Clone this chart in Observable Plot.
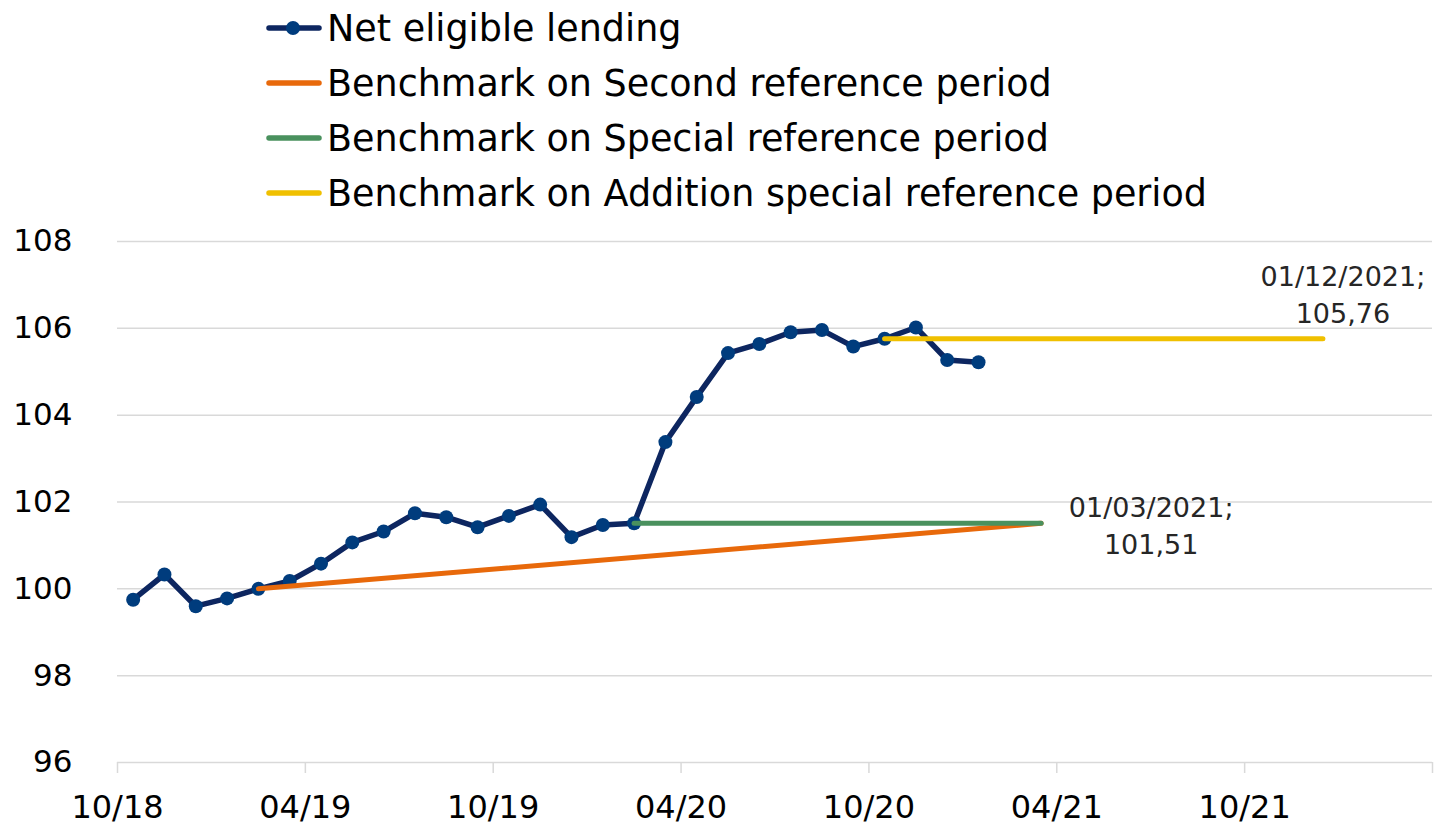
<!DOCTYPE html>
<html>
<head>
<meta charset="utf-8">
<script src="https://cdn.jsdelivr.net/npm/d3@7"></script>
<script src="https://cdn.jsdelivr.net/npm/@observablehq/plot@0.6"></script>
<style>
  html, body { margin: 0; padding: 0; background: #fff; }
  #wrap { width: 1435px; height: 829px; position: relative; overflow: hidden; font-family: "DejaVu Sans", sans-serif; }
  #legend { height: 220px; position: relative; }
  .row { position: absolute; left: 266px; height: 40px; display: flex; align-items: center; }
  .row span { font-size: 36.5px; color: #000; margin-left: 5px; white-space: nowrap; }
</style>
</head>
<body>
<div id="wrap">
  <div id="legend"></div>
  <div id="chart"></div>
</div>
<script>
// ---- data ----
const months = ["2018-10","2018-11","2018-12","2019-01","2019-02","2019-03","2019-04","2019-05","2019-06","2019-07","2019-08","2019-09","2019-10","2019-11","2019-12","2020-01","2020-02","2020-03","2020-04","2020-05","2020-06","2020-07","2020-08","2020-09","2020-10","2020-11","2020-12","2021-01"];
const netLending = [99.75,100.33,99.60,99.78,100.0,100.18,100.58,101.07,101.32,101.74,101.65,101.42,101.68,101.94,101.19,101.47,101.51,103.38,104.42,105.43,105.64,105.91,105.96,105.58,105.76,106.02,105.27,105.22];

const secondMonths = ["2019-02","2021-03"];
const secondValues = [100.0, 101.51];
const specialMonths = ["2020-02","2021-03"];
const specialValues = [101.51, 101.51];
const additionMonths = ["2020-10","2021-12"];
const additionValues = [105.76, 105.76];

const seriesNames = ["Net eligible lending","Benchmark on Second reference period","Benchmark on Special reference period","Benchmark on Addition special reference period"];
const seriesColors = ["#0d2660","#E8690B","#4A915E","#F0C000"];
const markerColor = "#003c7d";

const xTickMonths = ["2018-10","2019-04","2019-10","2020-04","2020-10","2021-04","2021-10","2022-04"];
const xTickLabels = ["10/18","04/19","10/19","04/20","10/20","04/21","10/21",""];
const yTicks = [96,98,100,102,104,106,108];

const annotations = [
  {month: "2021-03", value: 101.51, label: "01/03/2021;\n101,51", pos: "right"},
  {month: "2021-12", value: 105.76, label: "01/12/2021;\n105,76", pos: "above"}
];

// month string -> slot index (Excel date axis: points sit in the middle of the month slot)
const origin = 2018 * 12 + 9;
const slot = s => { const [y, m] = s.split("-").map(Number); return y * 12 + (m - 1) - origin; };
const mid = s => slot(s) + 0.5;

const net = months.map((m, i) => ({x: mid(m), y: netLending[i]}));
const second = secondMonths.map((m, i) => ({x: mid(m), y: secondValues[i]}));
const special = specialMonths.map((m, i) => ({x: mid(m), y: specialValues[i]}));
const addition = additionMonths.map((m, i) => ({x: mid(m), y: additionValues[i]}));
const ann = annotations.map(a => ({x: mid(a.month), y: a.value, label: a.label, pos: a.pos}));
const xTicks = xTickMonths.map(slot);
const tickLabel = d => xTickLabels[xTicks.indexOf(d)] ?? "";

// ---- legend ----
const legend = document.getElementById("legend");
seriesNames.forEach((name, i) => {
  const row = document.createElement("div");
  row.className = "row";
  row.style.top = (8 + i * 55) + "px";
  const marker = i === 0 ? `<circle cx="27" cy="7" r="7" fill="${markerColor}"/>` : "";
  row.innerHTML = `<svg width="56" height="14"><line x1="3" y1="7" x2="53" y2="7" stroke="${seriesColors[i]}" stroke-width="5.5" stroke-linecap="round"/>${marker}</svg><span>${name}</span>`;
  legend.appendChild(row);
});

// ---- chart ----
const chart = Plot.plot({
  width: 1435,
  height: 609,
  marginLeft: 117,
  marginRight: 3,
  marginTop: 21,
  marginBottom: 67,
  style: {fontFamily: "DejaVu Sans, sans-serif", color: "#000", background: "#fff", overflow: "visible"},
  x: {type: "linear", domain: [0, 42]},
  y: {domain: [96, 108]},
  marks: [
    Plot.gridY(yTicks, {stroke: "#d9d9d9", strokeOpacity: 1, strokeWidth: 1.5}),
    Plot.axisY(yTicks, {tickSize: 0, tickPadding: 45, fontSize: 31, tickFormat: d => String(d), fill: "#000", label: null}),
    Plot.axisX(xTicks, {tickSize: 11, tickPadding: 22, fontSize: 32, stroke: "#d9d9d9", strokeWidth: 1.5, strokeOpacity: 1, fill: "#000", tickFormat: tickLabel, label: null}),
    Plot.line(net, {x: "x", y: "y", stroke: seriesColors[0], strokeWidth: 5.5}),
    Plot.dot(net, {x: "x", y: "y", r: 7, fill: markerColor}),
    Plot.line(second, {x: "x", y: "y", stroke: seriesColors[1], strokeWidth: 5, strokeLinecap: "round"}),
    Plot.line(special, {x: "x", y: "y", stroke: seriesColors[2], strokeWidth: 5, strokeLinecap: "round"}),
    Plot.line(addition, {x: "x", y: "y", stroke: seriesColors[3], strokeWidth: 5, strokeLinecap: "round"}),
    Plot.text(ann.filter(a => a.pos === "right"), {x: "x", y: "y", text: "label", dx: 110, fontSize: 27, lineHeight: 1.37, fill: "#262626", textAnchor: "middle", lineAnchor: "middle"}),
    Plot.text(ann.filter(a => a.pos === "above"), {x: "x", y: "y", text: "label", dx: 20, dy: -46, fontSize: 27, lineHeight: 1.37, fill: "#262626", textAnchor: "middle", lineAnchor: "middle"})
  ]
});
document.getElementById("chart").appendChild(chart);
</script>
</body>
</html>
